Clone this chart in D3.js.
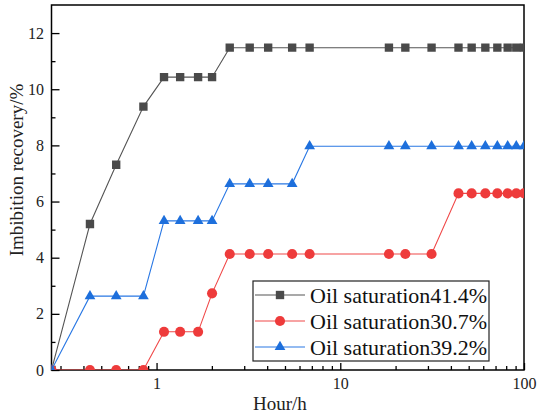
<!DOCTYPE html>
<html>
<head>
<meta charset="utf-8">
<script src="https://d3js.org/d3.v7.min.js"></script>
<style>
  body { margin: 0; background: #fff; }
  svg { display: block; font-family: "Liberation Serif", "Times New Roman", serif; }
</style>
</head>
<body>
<div id="chart"></div>
<script>
// Sampling times (hours), shared by all three cores
const hours = [0.268, 0.434, 0.603, 0.848, 1.098, 1.344, 1.683, 2.005, 2.502, 3.214, 4.05, 5.47,
    6.81, 18.4, 22.6, 31.4, 44.0, 51.9, 61.6, 71.6, 81.5, 90.8, 100];

// Imbibition recovery (%)
const sat414 = [0, 5.2, 7.31, 9.38, 10.43, 10.43, 10.43, 10.43, 11.48, 11.48, 11.48, 11.48,
    11.48, 11.48, 11.48, 11.48, 11.48, 11.48, 11.48, 11.48, 11.48, 11.48, 11.48];
const sat307 = [0, 0, 0, 0, 1.36, 1.36, 1.36, 2.73, 4.13, 4.13, 4.13, 4.13,
    4.13, 4.13, 4.13, 4.13, 6.29, 6.29, 6.29, 6.29, 6.29, 6.29, 6.29];
const sat392 = [0, 2.63, 2.63, 2.63, 5.31, 5.31, 5.31, 5.31, 6.63, 6.63, 6.63, 6.63,
    7.97, 7.97, 7.97, 7.97, 7.97, 7.97, 7.97, 7.97, 7.97, 7.97, 7.97];

const seriesNames = ['Oil saturation41.4%', 'Oil saturation30.7%', 'Oil saturation39.2%'];

const xMajor = [1, 10, 100];
const xMinor = [0.3, 0.4, 0.5, 0.6, 0.7, 0.8, 0.9, 2, 3, 4, 5, 6, 7, 8, 9, 20, 30, 40, 50, 60, 70, 80, 90];
const yMajor = [0, 2, 4, 6, 8, 10, 12];
const yMinor = [1, 3, 5, 7, 9, 11];

const W = 537, H = 417;
const margin = { top: 5, right: 13, bottom: 47, left: 51.5 };
const plotW = W - margin.left - margin.right;
const plotH = H - margin.top - margin.bottom;

const svg = d3.select('#chart').append('svg')
    .attr('width', W)
    .attr('height', H);

const x = d3.scaleLog().domain([hours[0], 100]).range([0, plotW]);
const y = d3.scaleLinear().domain([0, 13]).range([plotH, 0]);

const g = svg.append('g').attr('transform', `translate(${margin.left},${margin.top})`);

svg.append('defs').append('clipPath').attr('id', 'plotclip')
    .append('rect').attr('x', 0).attr('y', 0).attr('width', plotW).attr('height', plotH);

// Axes with inward ticks
const xAxis = g.append('g').attr('transform', `translate(0,${plotH})`)
    .call(d3.axisBottom(x).tickValues(xMajor).tickSizeInner(-7).tickSizeOuter(0)
        .tickFormat(d3.format('d')).tickPadding(8));
const xMinorAxis = g.append('g').attr('transform', `translate(0,${plotH})`)
    .call(d3.axisBottom(x).tickValues(xMinor).tickSizeInner(-4).tickSizeOuter(0).tickFormat(''));
const yAxis = g.append('g')
    .call(d3.axisLeft(y).tickValues(yMajor).tickSizeInner(-8).tickSizeOuter(0).tickPadding(7.5));
const yMinorAxis = g.append('g')
    .call(d3.axisLeft(y).tickValues(yMinor).tickSizeInner(-4).tickSizeOuter(0).tickFormat(''));

[xAxis, xMinorAxis, yAxis, yMinorAxis].forEach(a => {
    a.attr('font-family', null).attr('font-size', null);
    a.select('.domain').remove();
    a.selectAll('line').attr('stroke', '#000').attr('stroke-width', 1.3);
    a.selectAll('text').attr('fill', '#222').style('font-size', '16px');
});

// Frame
g.append('rect')
    .attr('x', 0).attr('y', 0).attr('width', plotW).attr('height', plotH)
    .attr('fill', 'none').attr('stroke', '#000').attr('stroke-width', 1.5);

// Series
const series = [
    { name: seriesNames[0], values: sat414, line: '#555555', fill: '#4a4a4a', shape: d3.symbolSquare, size: 70 },
    { name: seriesNames[1], values: sat307, line: '#f04848', fill: '#ee3b3b', shape: d3.symbolCircle, size: 80 },
    { name: seriesNames[2], values: sat392, line: '#2a78e4', fill: '#1d6fdc', shape: d3.symbolTriangle, size: 50 },
];

const line = d3.line()
    .x(d => x(d.t))
    .y(d => y(d.v));

const plot = g.append('g').attr('clip-path', 'url(#plotclip)');

series.forEach(s => {
    const pts = hours.map((t, i) => ({ t, v: s.values[i] }));
    plot.append('path')
        .datum(pts)
        .attr('fill', 'none')
        .attr('stroke', s.line)
        .attr('stroke-width', 1.1)
        .attr('d', line);
    plot.selectAll(null)
        .data(pts)
        .enter()
        .append('path')
        .attr('transform', d => `translate(${x(d.t)},${y(d.v)})`)
        .attr('d', d3.symbol().type(s.shape).size(s.size))
        .attr('fill', s.fill);
});

// Axis titles
svg.append('text')
    .attr('transform', `translate(23,${margin.top + 165}) rotate(-90)`)
    .attr('text-anchor', 'middle')
    .style('font-size', '19px')
    .attr('fill', '#222')
    .text('Imbibition recovery/%');

svg.append('text')
    .attr('x', 253)
    .attr('y', 410)
    .style('font-size', '19px')
    .attr('fill', '#222')
    .text('Hour/h');

// Legend
const legend = svg.append('g').attr('transform', 'translate(253,281)');
legend.append('rect')
    .attr('width', 236).attr('height', 80)
    .attr('fill', '#fff').attr('stroke', '#222').attr('stroke-width', 1.2);

series.forEach((s, i) => {
    const cy = 14 + i * 26;
    legend.append('line')
        .attr('x1', 2).attr('x2', 52).attr('y1', cy).attr('y2', cy)
        .attr('stroke', s.line).attr('stroke-width', 1.1);
    legend.append('path')
        .attr('transform', `translate(27,${cy})`)
        .attr('d', d3.symbol().type(s.shape).size(s.size))
        .attr('fill', s.fill);
    legend.append('text')
        .attr('x', 57).attr('y', cy)
        .attr('dy', '0.35em')
        .style('font-size', '22px')
        .attr('fill', '#111')
        .text(s.name);
});
</script>
</body>
</html>
